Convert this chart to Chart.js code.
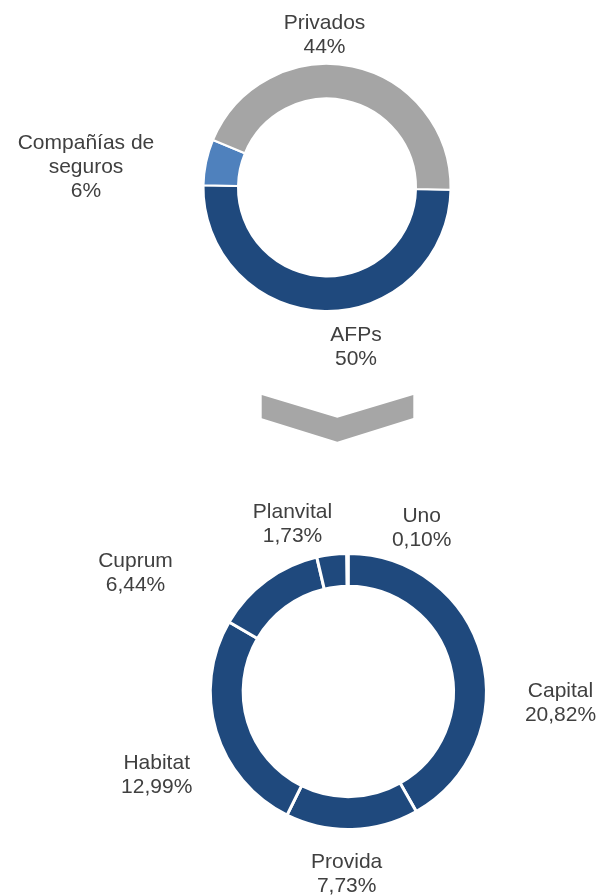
<!DOCTYPE html>
<html>
<head>
<meta charset="utf-8">
<script src="https://cdn.jsdelivr.net/npm/chart.js@4/dist/chart.umd.min.js"></script>
<style>
  html, body { margin: 0; padding: 0; background: #ffffff; }
  body { width: 598px; height: 896px; position: relative; overflow: hidden; }
  #wrapTop { position: absolute; left: 0; top: 0; width: 598px; height: 460px; }
  #wrapBottom { position: absolute; left: 0; top: 460px; width: 598px; height: 436px; }
  #chev { position: absolute; left: 0; top: 0; }
</style>
</head>
<body>
<div id="wrapTop"><canvas id="topChart"></canvas></div>
<svg id="chev" width="598" height="460"><polygon points="261.7,395 337.3,417.7 413.3,395 413.3,418 337.3,441.7 261.7,418.3" fill="#A6A6A6"/></svg>
<div id="wrapBottom"><canvas id="bottomChart"></canvas></div>
<script>
// ---- data: top donut (share of total) ----
const topCategories = ['AFPs', 'Compañías de seguros', 'Privados'];
const topLabelLines = [['AFPs'], ['Compañías de', 'seguros'], ['Privados']];
const topValues = [50, 6, 44];
const topValueText = ['50%', '6%', '44%'];

// ---- data: bottom donut (AFPs breakdown, % of total) ----
const afpCategories = ['Uno', 'Capital', 'Provida', 'Habitat', 'Cuprum', 'Planvital'];
const afpValues = [0.10, 20.82, 7.73, 12.99, 6.44, 1.73];
const afpValueText = ['0,10%', '20,82%', '7,73%', '12,99%', '6,44%', '1,73%'];

// label placement (offset of text block from the donut centre), styling only
const topLabelOffsets = [[29, 153.5], [-241, -38.5], [-2.5, -158.5]];
const afpLabelOffsets = [[73.4, -169.5], [212.2, 5.5], [-1.6, 176.5], [-191.6, 77.5], [-212.8, -124.5], [-55.8, -173.5]];

const FONT = '21px "Liberation Sans", Arial, sans-serif';
const TEXT_COLOR = '#404040';
const LINE_H = 24;

function labelPlugin(linesFn, offsets) {
  return {
    id: 'arcLabels',
    afterDraw(chart) {
      const ctx = chart.ctx;
      const meta = chart.getDatasetMeta(0);
      ctx.save();
      ctx.font = FONT;
      ctx.fillStyle = TEXT_COLOR;
      ctx.textAlign = 'center';
      ctx.textBaseline = 'alphabetic';
      meta.data.forEach((arc, i) => {
        const lines = linesFn(i);
        const x = arc.x + offsets[i][0];
        let y = arc.y + offsets[i][1];
        lines.forEach(line => { ctx.fillText(line, x, y); y += LINE_H; });
      });
      ctx.restore();
    }
  };
}

const commonOpts = {
  responsive: true,
  maintainAspectRatio: false,
  animation: false,
  events: [],
  plugins: { legend: { display: false }, tooltip: { enabled: false } }
};

new Chart(document.getElementById('topChart'), {
  type: 'doughnut',
  data: {
    labels: topCategories,
    datasets: [{
      data: topValues,
      backgroundColor: ['#1F497D', '#4F81BD', '#A5A5A5'],
      borderColor: '#ffffff',
      borderWidth: 2
    }]
  },
  options: Object.assign({}, commonOpts, {
    rotation: 91,
    radius: 123.5,
    cutout: 88.3,
    layout: { padding: { left: 203.5, right: 147.5, top: 64, bottom: 149 } }
  }),
  plugins: [labelPlugin(i => topLabelLines[i].concat([topValueText[i]]), topLabelOffsets)]
});

new Chart(document.getElementById('bottomChart'), {
  type: 'doughnut',
  data: {
    labels: afpCategories,
    datasets: [{
      data: afpValues,
      backgroundColor: '#1F497D',
      borderColor: '#ffffff',
      borderWidth: 3
    }]
  },
  options: Object.assign({}, commonOpts, {
    rotation: -0.7,
    radius: 138,
    cutout: 104,
    layout: { padding: { left: 210.3, right: 111.7, top: 93.5, bottom: 66.5 } }
  }),
  plugins: [labelPlugin(i => [afpCategories[i], afpValueText[i]], afpLabelOffsets)]
});
</script>
</body>
</html>
